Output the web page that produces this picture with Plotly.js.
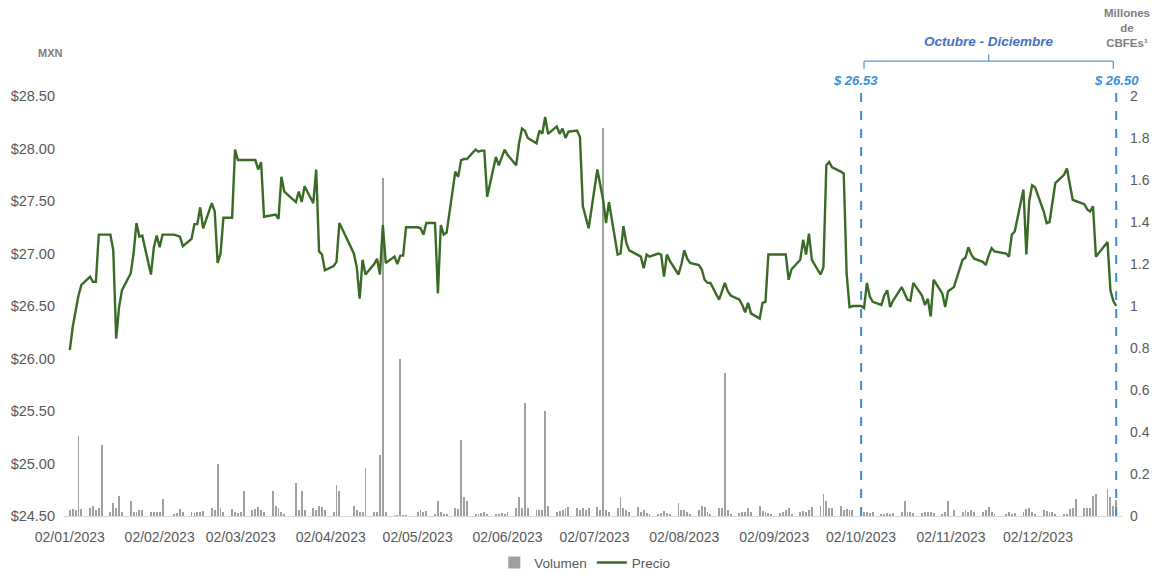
<!DOCTYPE html>
<html><head><meta charset="utf-8">
<script src="https://cdn.plot.ly/plotly-3.0.1.min.js"></script>
<style>html,body{margin:0;padding:0;background:#fff}#chart{width:1158px;height:573px}</style>
</head><body><div id="chart"></div>
<script>
// ---------- DATA ----------
const priceDates = [
'2023-01-02','2023-01-03','2023-01-04','2023-01-05','2023-01-06','2023-01-09','2023-01-10','2023-01-11','2023-01-12','2023-01-13',
'2023-01-16','2023-01-17','2023-01-18','2023-01-19','2023-01-20','2023-01-23','2023-01-24','2023-01-25','2023-01-26','2023-01-27',
'2023-01-30','2023-01-31','2023-02-01','2023-02-02','2023-02-03','2023-02-07','2023-02-08','2023-02-09','2023-02-10',
'2023-02-13','2023-02-14','2023-02-15','2023-02-16','2023-02-17','2023-02-20','2023-02-21','2023-02-22','2023-02-23','2023-02-24',
'2023-02-27','2023-02-28','2023-03-01','2023-03-02','2023-03-03','2023-03-06','2023-03-07','2023-03-08','2023-03-09','2023-03-10',
'2023-03-13','2023-03-14','2023-03-15','2023-03-16','2023-03-17','2023-03-21','2023-03-22','2023-03-23','2023-03-24',
'2023-03-27','2023-03-28','2023-03-29','2023-03-30','2023-03-31','2023-04-03','2023-04-04','2023-04-05',
'2023-04-10','2023-04-11','2023-04-12','2023-04-13','2023-04-14','2023-04-17','2023-04-18','2023-04-19','2023-04-20','2023-04-21',
'2023-04-24','2023-04-25','2023-04-26','2023-04-27','2023-04-28','2023-05-02','2023-05-03','2023-05-04','2023-05-05',
'2023-05-08','2023-05-09','2023-05-10','2023-05-11','2023-05-12','2023-05-15','2023-05-16','2023-05-17','2023-05-18','2023-05-19',
'2023-05-22','2023-05-23','2023-05-24','2023-05-25','2023-05-26','2023-05-29','2023-05-30','2023-05-31','2023-06-01','2023-06-02',
'2023-06-05','2023-06-06','2023-06-07','2023-06-08','2023-06-09','2023-06-12','2023-06-13','2023-06-14','2023-06-15','2023-06-16',
'2023-06-19','2023-06-20','2023-06-21','2023-06-22','2023-06-23','2023-06-26','2023-06-27','2023-06-28','2023-06-29','2023-06-30',
'2023-07-03','2023-07-04','2023-07-05','2023-07-06','2023-07-07','2023-07-10','2023-07-11','2023-07-12','2023-07-13','2023-07-14',
'2023-07-17','2023-07-18','2023-07-19','2023-07-20','2023-07-21','2023-07-24','2023-07-25','2023-07-26','2023-07-27','2023-07-28',
'2023-07-31','2023-08-01','2023-08-02','2023-08-03','2023-08-04','2023-08-07','2023-08-08','2023-08-09','2023-08-10','2023-08-11',
'2023-08-14','2023-08-15','2023-08-16','2023-08-17','2023-08-18','2023-08-21','2023-08-22','2023-08-23','2023-08-24','2023-08-25',
'2023-08-28','2023-08-29','2023-08-30','2023-08-31','2023-09-01','2023-09-04','2023-09-05','2023-09-06','2023-09-07','2023-09-08',
'2023-09-11','2023-09-12','2023-09-13','2023-09-14','2023-09-15','2023-09-18','2023-09-19','2023-09-20','2023-09-21','2023-09-22',
'2023-09-25','2023-09-26','2023-09-27','2023-09-28','2023-09-29','2023-10-02','2023-10-03','2023-10-04','2023-10-05','2023-10-06',
'2023-10-09','2023-10-10','2023-10-11','2023-10-12','2023-10-13','2023-10-16','2023-10-17','2023-10-18','2023-10-19','2023-10-20',
'2023-10-23','2023-10-24','2023-10-25','2023-10-26','2023-10-27','2023-10-30','2023-10-31','2023-11-01','2023-11-03',
'2023-11-06','2023-11-07','2023-11-08','2023-11-09','2023-11-10','2023-11-13','2023-11-14','2023-11-15','2023-11-16','2023-11-17',
'2023-11-21','2023-11-22','2023-11-23','2023-11-24','2023-11-27','2023-11-28','2023-11-29','2023-11-30','2023-12-01',
'2023-12-04','2023-12-05','2023-12-06','2023-12-07','2023-12-08','2023-12-11','2023-12-12','2023-12-13','2023-12-14','2023-12-15',
'2023-12-18','2023-12-19','2023-12-20','2023-12-21','2023-12-22','2023-12-26','2023-12-27','2023-12-28','2023-12-29'
];
const priceValues = [
26.08,26.30,26.45,26.60,26.70,26.78,26.73,26.73,27.18,27.18,
27.18,27.03,26.19,26.49,26.65,26.81,27.00,27.29,27.16,27.17,
26.80,27.06,27.17,27.06,27.18,27.18,27.17,27.16,27.07,
27.14,27.28,27.28,27.44,27.24,27.48,27.40,26.91,27.00,27.34,
27.34,27.99,27.89,27.89,27.89,27.89,27.89,27.80,27.87,27.35,
27.36,27.37,27.33,27.73,27.59,27.49,27.59,27.49,27.64,
27.48,27.80,27.02,26.99,26.84,26.88,26.92,27.29,
27.00,26.87,26.57,26.94,26.80,26.90,26.95,26.80,27.27,26.91,
26.97,26.90,26.98,26.98,27.25,27.25,27.24,27.18,27.29,
27.29,26.62,27.27,27.18,27.20,27.78,27.73,27.89,27.90,27.90,
27.99,27.97,27.98,27.98,27.54,27.92,27.84,27.92,27.99,27.94,
27.84,28.05,28.19,28.17,28.10,28.05,28.17,28.14,28.30,28.14,
28.21,28.14,28.19,28.10,28.16,28.17,28.11,27.45,27.35,27.24,
27.80,27.65,27.51,27.29,27.49,26.99,27.00,27.26,27.10,27.03,
26.99,26.97,26.86,26.99,26.97,27.00,26.99,26.78,26.99,26.93,
26.80,26.90,27.03,26.95,26.91,26.89,26.85,26.75,26.72,26.72,
26.56,26.65,26.72,26.64,26.60,26.56,26.51,26.44,26.53,26.43,
26.38,26.53,26.54,26.99,26.99,26.99,26.99,26.99,26.75,26.85,
26.94,27.13,26.99,27.19,26.94,26.80,26.87,27.84,27.87,27.82,
27.78,27.76,26.81,26.49,26.50,26.50,26.48,26.72,26.59,26.54,
26.51,26.60,26.65,26.49,26.55,26.68,26.62,26.56,26.55,26.72,
26.60,26.51,26.57,26.40,26.75,26.62,26.49,26.64,26.68,
26.94,26.96,27.06,26.99,26.95,26.92,26.89,26.98,27.05,27.02,
27.00,26.97,27.18,27.21,27.61,26.99,27.50,27.65,27.63,
27.40,27.29,27.30,27.48,27.67,27.75,27.81,27.66,27.51,27.50,
27.47,27.42,27.40,27.45,26.97,27.11,26.65,26.55,26.50
];
// Volume (millions of CBFEs), one row per week (Mon..Fri), weeks starting 2023-01-02
const volumeWeekStart = '2023-01-02';
const volumeByWeek = [
[0.03,0.035,0.03,0.38,0.035],[0.04,0.05,0.03,0.04,0.34],[0.02,0.06,0.04,0.095,0.02],[0.07,0.02,0.02,0.03,0.03],
[0.02,0.02,0.02,0.02,0.08],[0,0.01,0.015,0.035,0.02],[0.02,0.015,0.02,0.02,0.025],[0.04,0.03,0.25,0.04,0.02],
[0.035,0.02,0.015,0.02,0.12],[0.03,0.035,0.045,0.03,0.02],[0.12,0.05,0.04,0.02,0.01],[0,0.155,0.03,0.12,0.03],
[0.04,0.03,0.05,0.045,0.03],[0.02,0.15,0.12,0,0],[0.05,0.03,0.02,0.02,0.23],[0.02,0.02,0.29,1.61,0.02],
[0.005,0.005,0.75,0.005,0.005],[0,0.02,0.03,0.02,0.025],[0.01,0.07,0.02,0.01,0.01],[0.04,0.035,0.36,0.09,0.07],
[0.01,0.01,0.015,0.02,0.01],[0.01,0.01,0.015,0.01,0.02],[0.04,0.09,0.04,0.54,0.04],[0.03,0.03,0.03,0.5,0.05],
[0.02,0.025,0.03,0.04,0.045],[0.04,0.03,0.04,0.03,0.04],[0.045,0.03,1.85,0.03,0.02],[0.04,0.09,0.04,0.03,0.02],
[0.045,0.02,0.03,0.015,0.01],[0.01,0.015,0.025,0.015,0.01],[0.06,0.03,0.03,0.02,0.01],[0.03,0.05,0.045,0.02,0.01],
[0.04,0.04,0.68,0.03,0.01],[0.015,0.02,0.02,0.04,0.02],[0.05,0.025,0.02,0.015,0.01],[0.015,0.02,0.03,0.04,0.01],
[0.02,0.025,0.02,0.03,0.045],[0.05,0.105,0.07,0.04,0.04],[0.05,0.03,0.035,0.03,0.03],[0.03,0.02,0.02,0.015,0.02],
[0.01,0.01,0.012,0.01,0.012],[0.02,0.07,0.02,0.02,0.015],[0.015,0.02,0.02,0.02,0.015],[0.01,0.02,0.07,0,0.03],
[0.02,0.03,0.02,0.03,0.02],[0.02,0.03,0.045,0.02,0.01],[0,0.01,0.02,0.01,0.015],[0.02,0.035,0.04,0.02,0.01],
[0.03,0.025,0.02,0.02,0.01],[0.01,0.01,0.035,0.04,0.08],[0.04,0.04,0.04,0.095,0.105],[0,0.13,0.09,0.05,0.075]
];
const xTickDates = ['2023-01-02','2023-02-02','2023-03-02','2023-04-02','2023-05-02','2023-06-02','2023-07-02','2023-08-02','2023-09-02','2023-10-02','2023-11-02','2023-12-02'];
const xTickLabels = ['02/01/2023','02/02/2023','02/03/2023','02/04/2023','02/05/2023','02/06/2023','02/07/2023','02/08/2023','02/09/2023','02/10/2023','02/11/2023','02/12/2023'];
const periodStart = '2023-10-02';
const periodEnd = '2023-12-29';
const periodLabel = 'Octubre - Diciembre';
const periodStartLabel = '$ 26.53';
const periodEndLabel = '$ 26.50';
const seriesNames = ['Volumen','Precio'];

// ---------- BUILD ----------
const DAY = 86400000;
function fmt(ms){ return new Date(ms).toISOString().slice(0,19).replace('T',' '); }
const t0 = Date.parse(volumeWeekStart + 'T00:00:00Z');
const volDates = [], volValues = [];
volumeByWeek.forEach((wk, w) => wk.forEach((v, k) => {
  volDates.push(fmt(t0 + (7*w + k)*DAY)); volValues.push(v);
}));

const FONT = 'Liberation Sans, Arial, sans-serif';
const GRAY = '#595959';
const BLUE = '#3b8fd9';
const TICK = 14;

const traces = [
  {type:'bar', name:seriesNames[0], x:volDates, y:volValues, yaxis:'y',
   marker:{color:'#a0a0a0'}, width:0.65*DAY, hoverinfo:'x+y'},
  {type:'scatter', mode:'lines', name:seriesNames[1], x:priceDates, y:priceValues, yaxis:'y2',
   line:{color:'#3a6b26', width:2.4}}
];

const ps = Date.parse(periodStart+'T00:00:00Z'), pe = Date.parse(periodEnd+'T00:00:00Z');
const mid = fmt((ps+pe)/2);
const yB = 1.083;
const bracketColor = '#5b9bd5';
const shapes = [
  {type:'line', xref:'x', yref:'paper', x0:periodStart, x1:periodStart, y0:0, y1:1.02, line:{color:BLUE, width:2, dash:'dash'}},
  {type:'line', xref:'x', yref:'paper', x0:periodEnd, x1:periodEnd, y0:0, y1:1.02, line:{color:BLUE, width:2, dash:'dash'}},
  {type:'line', xref:'x', yref:'paper', x0:fmt(ps+1*DAY), x1:fmt(pe-1*DAY), y0:yB, y1:yB, line:{color:bracketColor, width:1.3}},
  {type:'line', xref:'x', yref:'paper', x0:fmt(ps+1*DAY), x1:fmt(ps+1*DAY), y0:yB, y1:yB-0.018, line:{color:bracketColor, width:1.3}},
  {type:'line', xref:'x', yref:'paper', x0:fmt(pe-1*DAY), x1:fmt(pe-1*DAY), y0:yB, y1:yB-0.018, line:{color:bracketColor, width:1.3}},
  {type:'line', xref:'x', yref:'paper', x0:mid, x1:mid, y0:yB, y1:yB+0.016, line:{color:bracketColor, width:1.3}}
];

const annotations = [
  {xref:'x', yref:'paper', x:fmt(ps-2*DAY), y:1.038, text:'<b><i>'+periodStartLabel+'</i></b>', showarrow:false,
   font:{family:FONT, size:13, color:BLUE}, xanchor:'center', yanchor:'middle'},
  {xref:'x', yref:'paper', x:periodEnd, y:1.038, text:'<b><i>'+periodEndLabel+'</i></b>', showarrow:false,
   font:{family:FONT, size:13, color:BLUE}, xanchor:'center', yanchor:'middle'},
  {xref:'x', yref:'paper', x:mid, y:1.129, text:'<b><i>'+periodLabel+'</i></b>', showarrow:false,
   font:{family:FONT, size:13.5, color:'#4472c4'}, xanchor:'center', yanchor:'middle'},
  {xref:'paper', yref:'paper', x:1.005, y:1.162, text:'<b>Millones<br>de<br>CBFEs¹</b>', showarrow:false,
   font:{family:FONT, size:11.5, color:'#7f7f7f'}, xanchor:'center', yanchor:'middle', align:'center'},
  {xref:'paper', yref:'paper', x:-0.013, y:1.102, text:'<b>MXN</b>', showarrow:false,
   font:{family:FONT, size:11, color:'#7f7f7f'}, xanchor:'center', yanchor:'middle'}
];

const layout = {
  width:1158, height:573,
  margin:{l:64, r:35.5, t:96, b:57, autoexpand:false},
  paper_bgcolor:'#fff', plot_bgcolor:'#fff',
  font:{family:FONT, size:TICK, color:GRAY},
  showlegend:true,
  legend:{orientation:'h', xref:'container', yref:'container', x:0.505, xanchor:'center', y:0.018, yanchor:'middle',
    font:{family:FONT, size:13.5, color:GRAY}, traceorder:'normal'},
  bargap:0,
  xaxis:{type:'date', range:['2022-12-31','2023-12-31'], tickmode:'array', tickvals:xTickDates, ticktext:xTickLabels,
    showgrid:false, zeroline:false, showline:true, linecolor:'#d9d9d9', linewidth:1, ticks:'', ticklabelstandoff:8,
    automargin:false, tickfont:{family:FONT, size:TICK, color:GRAY}},
  yaxis:{side:'right', range:[0,2], dtick:0.2, tick0:0, showgrid:false, zeroline:false, showline:false, ticks:'',
    ticklabelstandoff:7, automargin:false, tickfont:{family:FONT, size:TICK, color:GRAY}},
  yaxis2:{side:'left', overlaying:'y', range:[24.5,28.5], dtick:0.5, tick0:24.5, tickprefix:'$', tickformat:'.2f',
    showgrid:false, zeroline:false, showline:false, ticks:'', ticklabelstandoff:8, automargin:false,
    tickfont:{family:FONT, size:14.5, color:GRAY}},
  shapes:shapes, annotations:annotations
};

Plotly.newPlot('chart', traces, layout, {displayModeBar:false, staticPlot:true});
</script>
</body></html>
